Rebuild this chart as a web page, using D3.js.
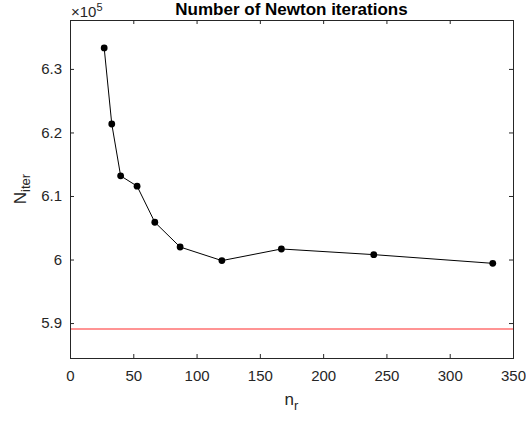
<!DOCTYPE html>
<html lang="en">
<head>
    <meta charset="UTF-8">
    <title>Number of Newton iterations</title>
    <script src="https://d3js.org/d3.v7.min.js"></script>
    <style type="text/css">
        body { margin: 0; background: #fff; }
        svg { display: block; font-family: "Liberation Sans", Arial, sans-serif; }
        .axis path, .axis line { stroke: #262626; }
        .axis text { font-size: 15px; fill: #262626; }
        .title { font-size: 17px; font-weight: bold; text-anchor: middle; fill: #000; }
        .label { font-size: 17px; fill: #262626; text-anchor: middle; }
    </style>
</head>
<body>
<script type="text/javascript">
    //DATA
    const nr = [27, 33, 40, 53, 67, 87, 120, 167, 240, 334];
    const nIter = [6.333, 6.2133, 6.1317, 6.1155, 6.0587, 6.0197, 5.9983, 6.0166, 6.0077, 5.994]; // x 10^5
    const reference = 5.890; // x 10^5
    const xTicks = [0, 50, 100, 150, 200, 250, 300, 350];
    const yTicks = [5.9, 6, 6.1, 6.2, 6.3];

    //CONSTANTS
    const width = 526, height = 421;
    const mLeft = 70, mRight = 513, mTop = 20, mBottom = 358;

    const xScale = d3.scaleLinear().domain([0, 350]).range([mLeft, mRight]);
    const yScale = d3.scaleLinear().domain([5.845, 6.377]).range([mBottom, mTop]);

    const svg = d3.select("body").append("svg")
        .attr("width", width)
        .attr("height", height);

    //BOX
    svg.append("rect")
        .attr("x", mLeft + 0.5).attr("y", mTop + 0.5)
        .attr("width", mRight - mLeft).attr("height", mBottom - mTop)
        .attr("fill", "none").attr("stroke", "#262626").attr("stroke-width", 1);

    //AXES (ticks inside)
    const fmt = d => d3.format("")(+d.toFixed(1));
    svg.append("g").attr("class", "axis")
        .attr("transform", "translate(0," + mBottom + ")")
        .call(d3.axisBottom(xScale).tickValues(xTicks).tickSize(-4).tickPadding(12).tickSizeOuter(0))
        .call(g => g.select(".domain").remove());
    svg.append("g").attr("class", "axis")
        .attr("transform", "translate(0," + mTop + ")")
        .call(d3.axisTop(xScale).tickValues(xTicks).tickSize(-4).tickFormat("").tickSizeOuter(0))
        .call(g => g.select(".domain").remove());
    svg.append("g").attr("class", "axis")
        .attr("transform", "translate(" + mLeft + ",0)")
        .call(d3.axisLeft(yScale).tickValues(yTicks).tickFormat(fmt).tickSize(-4).tickPadding(8).tickSizeOuter(0))
        .call(g => g.select(".domain").remove());
    svg.append("g").attr("class", "axis")
        .attr("transform", "translate(" + mRight + ",0)")
        .call(d3.axisRight(yScale).tickValues(yTicks).tickFormat("").tickSize(-4).tickSizeOuter(0))
        .call(g => g.select(".domain").remove());

    //REFERENCE LINE
    const yRef = Math.round(yScale(reference));
    svg.append("line")
        .attr("x1", mLeft + 1).attr("x2", mRight)
        .attr("y1", yRef).attr("y2", yRef)
        .attr("stroke", "#ff2a2a").attr("stroke-width", 1.2);

    //DATA LINE
    const data = nr.map((x, i) => ({x: x, y: nIter[i]}));
    const line = d3.line().x(d => xScale(d.x)).y(d => yScale(d.y));
    svg.append("path")
        .attr("d", line(data))
        .attr("fill", "none").attr("stroke", "#000").attr("stroke-width", 1);
    svg.selectAll("circle.pt").data(data).enter().append("circle")
        .attr("class", "pt")
        .attr("cx", d => xScale(d.x)).attr("cy", d => yScale(d.y))
        .attr("r", 3.4).attr("fill", "#000");

    //TITLE
    svg.append("text").attr("class", "title")
        .attr("x", (mLeft + mRight) / 2).attr("y", 15)
        .text("Number of Newton iterations");

    //EXPONENT
    const ex = svg.append("text").attr("x", mLeft + 1).attr("y", 17)
        .attr("font-size", 15).attr("fill", "#262626");
    ex.append("tspan").text("\u00d710");
    ex.append("tspan").attr("dy", -6).attr("font-size", 11).text("5");

    //X LABEL
    const xl = svg.append("text").attr("class", "label")
        .attr("x", (mLeft + mRight) / 2).attr("y", 405);
    xl.append("tspan").text("n");
    xl.append("tspan").attr("dy", 5).attr("font-size", 13).text("r");

    //Y LABEL
    const yl = svg.append("text").attr("class", "label")
        .attr("transform", "translate(26," + 189 + ") rotate(-90)");
    yl.append("tspan").text("N");
    yl.append("tspan").attr("dy", 4).attr("font-size", 13).text("iter");
</script>
</body>
</html>
